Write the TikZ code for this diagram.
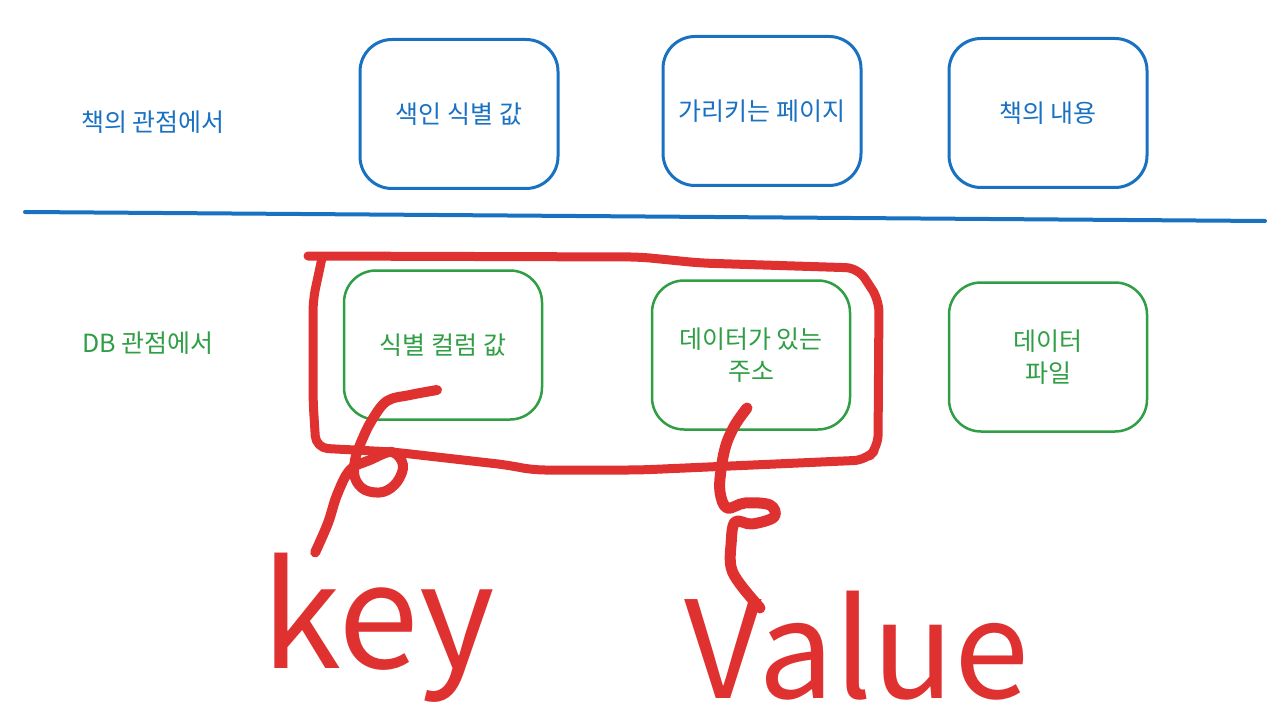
\documentclass[tikz,border=0pt]{standalone}
\usepackage{fontspec}
\setmainfont{Noto Sans CJK KR}
\usetikzlibrary{positioning}
\definecolor{bookblue}{HTML}{1971C2}
\definecolor{dbgreen}{HTML}{2F9E44}
\definecolor{penred}{HTML}{E03131}

\begin{document}
\begin{tikzpicture}[x=1pt, y=-1pt]
                \tikzstyle{label} = [font=\fontsize{25}{32}\selectfont]
                \tikzstyle{bookbox} = [draw=bookblue, line width=3pt, text=bookblue,
                rounded corners=32pt, minimum width=198pt, minimum height=149pt,
                align=center, font=\fontsize{25}{32}\selectfont]
                \tikzstyle{dbbox} = [bookbox, draw=dbgreen, line width=2.5pt, text=dbgreen]
                \tikzstyle{pen} = [penred, line width=9pt, line cap=round, line join=round]
                \tikzstyle{pentext} = [text=penred, inner sep=0pt, anchor=base]

                \fill[white] (0,0) rectangle (1285,722);
                \useasboundingbox (0,0) rectangle (1285,722);

                % book row
                \node [label, text=bookblue] (booktitle) at (153,122) {책의 관점에서};
                \node [bookbox] (index) at (459,114) {색인 식별 값};
                \node [bookbox] (page) at (762,111) {가리키는 페이지};
                \node [bookbox] (content) at (1048,113) {책의 내용};

                \coordinate (divl) at (25,212);
                \coordinate (divr) at (1265,221);
                \draw [bookblue, line width=4pt, line cap=round] (divl) -- (divr);

                % db row
                \node [label, text=dbgreen] (dbtitle) at (148,343) {DB 관점에서};
                \node [dbbox] (keycol) at (443,345) {식별 컬럼 값};
                \node [dbbox] (addr) at (751,355) {데이터가 있는\\주소};
                \node [dbbox] (datafile) at (1048,357) {데이터\\파일};

                % red marks
                \draw [pen, rounded corners=12pt] (308,256) -- (640,257) -- (700,263)
                    -- (858,268) -- (879,300) -- (878,447) -- (866,460) -- (640,470)
                    -- (533,470) -- (507,465) -- (393,452) -- (316,448) -- (313,400)
                    -- (313,300) -- (322,258);

                \node [pentext, font=\fontsize{145}{145}\selectfont] (key) at (378,668) {key};
                \node [pentext, font=\fontsize{135}{135}\selectfont] (value) at (857,698) {Value};

                \coordinate (keyhook) at (437,390);
                \coordinate (valhook) at (747,408);
                \coordinate (valtail) at (760,608);

                \draw [pen, line width=10pt] plot [smooth, tension=0.6] coordinates {(keyhook)
                    (410,395) (387,401) (372,420) (362,440) (355,460) (355,478) (365,490)
                    (383,492) (397,482) (403,465) (392,452) (370,460) (350,470) (337,495)
                    (328,523) (key.130)};
                \draw [pen, line width=11pt] plot [smooth, tension=0.6] coordinates {(valhook)
                    (735,425) (726,445) (721,470) (720,492) (727,508) (745,503) (770,505)
                    (774,517) (752,524) (735,522) (731,545) (731,567) (740,584) (valtail)};
            \end{tikzpicture}
\end{document}
